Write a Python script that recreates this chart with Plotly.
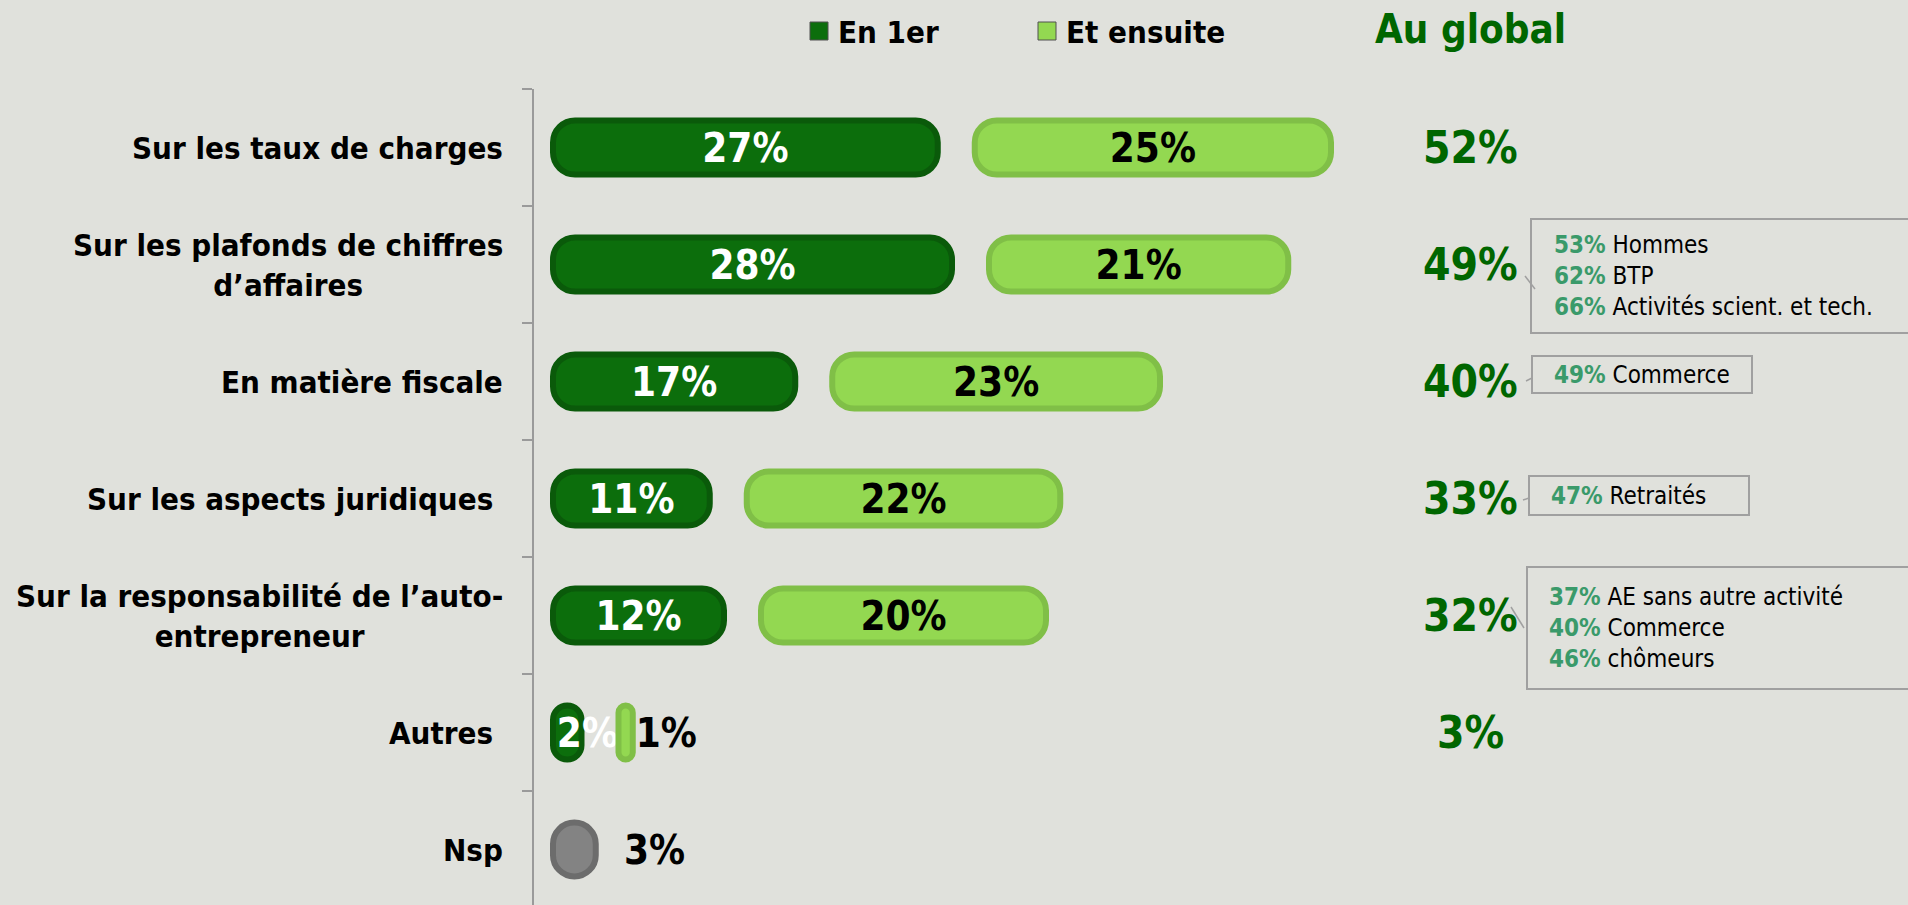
import plotly.graph_objects as go

# ---------------- data ----------------
categories = [
    "Sur les taux de charges",
    "Sur les plafonds de chiffres<br>d’affaires",
    "En matière fiscale",
    "Sur les aspects juridiques\u00a0",
    "Sur la responsabilité de l’auto-<br>entrepreneur",
    "Autres\u00a0",
    "Nsp",
]
en_1er = [27, 28, 17, 11, 12, 2]
et_ensuite = [25, 21, 23, 22, 20, 1]
nsp_value = [3]
au_global = [52, 49, 40, 33, 32, 3]
detail_pcts = [["53%", "62%", "66%"], ["49%"], ["47%"], ["37%", "40%", "46%"]]
detail_labels = [["Hommes", "BTP", "Activités scient. et tech."],
                 ["Commerce"], ["Retraités"],
                 ["AE sans autre activité", "Commerce", "chômeurs"]]

# ---------------- layout constants ----------------
W, H = 1908, 905
L, T = 534, 89
PX = 14.25         # pixels per percentage point
ROW = 117          # pixels per category row
LW = 6             # bar rim width (px)
X0 = -19 / PX      # fill of bars starts 19 px right of the axis line
GAP = (31 + LW) / PX
BW = (60 - LW) / ROW
BG = "#e0e1dc"
FONT = "DejaVu Sans Condensed, DejaVu Sans, sans-serif"
DARK = "#0c6e0c"
DARK_RIM = "#0a5a0a"
LIGHT = "#93d851"
LIGHT_RIM = "#80bf47"
GRAY = "#838383"
GRAY_RIM = "#6c6c6c"
GREEN_TXT = "#006600"
SUB_GREEN = "#3a9a6a"
BAR_FONT = dict(family=FONT, size=40, weight="bold")


def fx(px):
    return (px - L) / (W - L)


def fy(py):
    return (H - py) / (H - T)


n = len(categories)
ypos = list(range(n))
n_big = 5  # rows whose first segment is wide enough for a centred label

fig = go.Figure()

# "En 1er" segments: wide rows (centred labels) and the small row (label from start)
for rows, anchor in ((slice(0, n_big), "middle"), (slice(n_big, len(en_1er)), "start")):
    vals = en_1er[rows]
    fig.add_trace(go.Bar(
        name="En 1er", orientation="h",
        y=ypos[rows], x=vals, base=[0] * len(vals),
        width=BW,
        marker=dict(color=DARK, line=dict(color=DARK_RIM, width=LW), cornerradius=22),
        text=[f"{v}%" for v in vals], textposition="inside", insidetextanchor=anchor,
        textangle=0, constraintext="none",
        textfont=dict(BAR_FONT, color="white"),
        cliponaxis=False, showlegend=False, hoverinfo="skip",
    ))

light_base = [v + GAP for v in en_1er]
fig.add_trace(go.Bar(
    name="Et ensuite", orientation="h",
    y=ypos[:len(et_ensuite)], x=et_ensuite, base=light_base,
    width=BW,
    marker=dict(color=LIGHT, line=dict(color=LIGHT_RIM, width=LW), cornerradius=22),
    text=[f"{v}%" for v in et_ensuite],
    textposition=["inside"] * n_big + ["outside"] * (len(et_ensuite) - n_big),
    insidetextanchor="middle", textangle=0, constraintext="none",
    textfont=dict(BAR_FONT, color="black"),
    cliponaxis=False, showlegend=False, hoverinfo="skip",
))

fig.add_trace(go.Bar(
    name="Nsp", orientation="h",
    y=[n - 1], x=nsp_value, base=[0],
    width=BW,
    marker=dict(color=GRAY, line=dict(color=GRAY_RIM, width=LW), cornerradius=22),
    cliponaxis=False, showlegend=False, hoverinfo="skip",
))

annotations = []
shapes = []

# Nsp value label, to the right of its bar
annotations.append(dict(
    x=nsp_value[0], xref="x", xanchor="left", xshift=26, y=n - 1, yref="y",
    yanchor="middle", text=f"{nsp_value[0]}%", showarrow=False,
    font=dict(BAR_FONT, color="black"),
))

# category labels (right aligned block, centred lines)
for i, c in enumerate(categories):
    annotations.append(dict(
        x=fx(505), xref="paper", xanchor="right", y=i, yref="y", yanchor="middle",
        text=c, showarrow=False, align="center",
        font=dict(family=FONT, size=31, color="black", weight="bold"),
    ))

# global column
annotations.append(dict(
    x=fx(1470), xref="paper", xanchor="center", y=fy(29), yref="paper", yanchor="middle",
    text="Au global", showarrow=False,
    font=dict(family=FONT, size=40, color=GREEN_TXT, weight="bold"),
))
for i, v in enumerate(au_global):
    annotations.append(dict(
        x=fx(1470), xref="paper", xanchor="center", y=i, yref="y", yanchor="middle",
        text=f"{v}%", showarrow=False,
        font=dict(family=FONT, size=44, color=GREEN_TXT, weight="bold"),
    ))

# detail boxes
boxes = [(1531, 219, 1920, 333, 1552, 276),
         (1532, 356, 1752, 393, 1552, 375),
         (1529, 476, 1749, 515, 1549, 496),
         (1527, 567, 1920, 689, 1547, 628)]
connectors = [(1525, 276, 1535, 289), (1526, 381, 1532, 378),
              (1523, 500, 1529, 498), (1511, 607, 1524, 628)]
for (x0, y0, x1, y1, tx, ty), pcts, labs in zip(boxes, detail_pcts, detail_labels):
    shapes.append(dict(type="rect", xref="paper", yref="paper",
                       x0=fx(x0), x1=fx(x1), y0=fy(y1), y1=fy(y0),
                       line=dict(color="#a0a0a0", width=2), fillcolor="rgba(0,0,0,0)"))
    txt = "<br>".join(f"<span style='color:{SUB_GREEN}'><b>{p}</b></span> {l}"
                      for p, l in zip(pcts, labs))
    annotations.append(dict(
        x=fx(tx), xref="paper", xanchor="left", y=fy(ty), yref="paper", yanchor="middle",
        text=txt, showarrow=False, align="left",
        font=dict(family=FONT, size=24, color="black"),
    ))
for (a, b, c, d) in connectors:
    shapes.append(dict(type="line", xref="paper", yref="paper",
                       x0=fx(a), y0=fy(b), x1=fx(c), y1=fy(d),
                       line=dict(color="#a0a0a0", width=1.5)))

# legend (manual)
legend_items = [("En 1er", DARK, 810), ("Et ensuite", LIGHT, 1038)]
for name, col, lx in legend_items:
    shapes.append(dict(type="rect", xref="paper", yref="paper",
                       x0=fx(lx), x1=fx(lx + 18), y0=fy(40), y1=fy(22),
                       line=dict(color="#505050", width=1), fillcolor=col))
    annotations.append(dict(
        x=fx(lx + 26), xref="paper", xanchor="left", y=fy(32), yref="paper", yanchor="middle",
        text=name, showarrow=False,
        font=dict(family=FONT, size=31, color="black", weight="bold"),
    ))

fig.update_layout(
    width=W, height=H,
    margin=dict(l=L, r=0, t=T, b=0, pad=0),
    paper_bgcolor=BG, plot_bgcolor=BG,
    barmode="overlay",
    showlegend=False,
    uniformtext=dict(mode="show", minsize=40),
    annotations=annotations,
    shapes=shapes,
    xaxis=dict(visible=False, range=[X0, X0 + (W - L) / PX], fixedrange=True),
    yaxis=dict(range=[-0.5 + (H - T) / ROW, -0.5], showline=True, linecolor="#9a9a9a",
               linewidth=2, ticks="outside", ticklen=10, tickwidth=2, tickcolor="#9a9a9a",
               tickvals=[k - 0.5 for k in range(n + 1)], showticklabels=False,
               showgrid=False, zeroline=False, fixedrange=True),
)

fig.write_html("out.html", config={"displayModeBar": False},
               post_script="document.body.style.margin='0';document.body.style.overflow='hidden';")
